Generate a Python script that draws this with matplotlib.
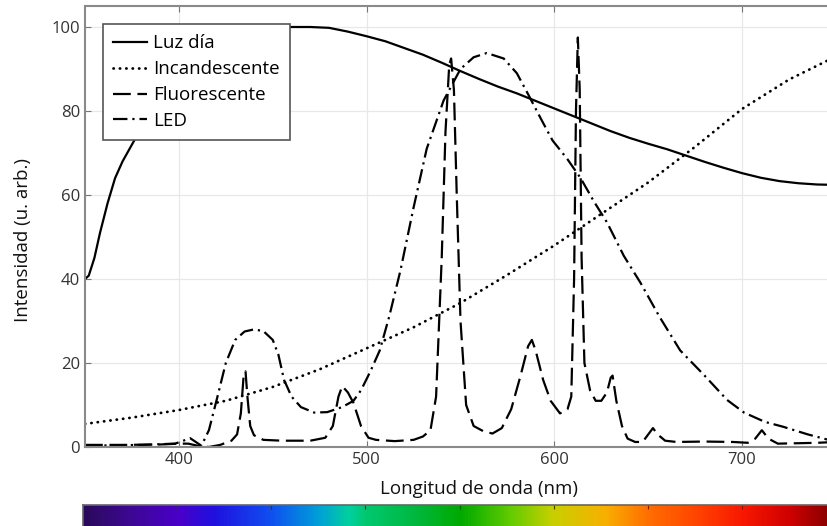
import matplotlib.pyplot as plt
from matplotlib.colors import LinearSegmentedColormap
import numpy as np

plt.rcParams['font.family'] = ['Open Sans', 'DejaVu Sans']

# Luz dia (daylight)
wl_dia = [350, 352, 355, 358, 362, 366, 370, 375, 380, 390, 400, 410, 420, 430, 440,
          450, 460, 470, 480, 490, 500, 510, 520, 530, 540, 550, 560, 570, 580, 590,
          600, 610, 620, 630, 640, 650, 660, 670, 680, 690, 700, 710, 720, 730, 740, 750]
val_dia = [40, 40.8, 45, 51, 58, 64, 68, 72, 76, 83, 88, 92, 95.5, 97.8, 99,
           99.7, 100, 100, 99.8, 98.9, 97.8, 96.6, 95, 93.4, 91.5, 89.5, 87.6, 85.8, 84.2, 82.4,
           80.6, 78.8, 77, 75.2, 73.6, 72.2, 70.9, 69.4, 67.9, 66.5, 65.2, 64.1, 63.3, 62.8, 62.5, 62.4]

# Incandescente
wl_inc = [350, 375, 400, 425, 450, 475, 500, 525, 550, 575, 600, 625, 650, 675, 700, 725, 750]
val_inc = [5.5, 7, 8.8, 11, 14.3, 18.5, 23.5, 28.5, 34.3, 41, 48, 55.5, 63, 71.5, 80.5, 87.5, 93]

# Fluorescente
wl_flu = [350, 370, 390, 400, 405, 410, 416, 422, 428, 431, 433, 434.5, 435.5, 436.5, 438, 440,
          445, 455, 470, 478, 482, 485, 487, 490, 493, 497, 501, 505, 515, 525, 530, 534, 537,
          540, 542, 544, 545, 546.5, 548, 550, 553, 557, 562, 567, 572, 577, 582, 586, 588, 590,
          594, 598, 603, 607, 609, 610.5, 611.5, 612.5, 613.5, 614.5, 616, 619, 622, 625, 628,
          630, 631, 633, 636, 639, 643, 647, 650, 652.5, 655, 659, 665, 680, 695, 703, 707,
          710.5, 714, 719, 730, 740, 750]
val_flu = [0.5, 0.5, 0.6, 0.8, 0.8, 0.3, 0.0, 0.5, 1.5, 3, 8, 17, 18, 12, 5, 2.8,
           1.7, 1.5, 1.5, 2.2, 5, 12, 14.5, 13, 10.5, 5, 2.2, 1.7, 1.4, 1.7, 2.5, 4, 12,
           45, 75, 91, 92.5, 85, 60, 30, 10, 5, 3.8, 3.2, 4.5, 9, 17, 24, 25.5, 23,
           16, 11, 8, 9, 12, 40, 80, 97.5, 85, 45, 20, 13.5, 11, 11, 13,
           16.5, 17, 11, 5, 2, 1.2, 1.2, 3, 4.5, 3, 1.5, 1.2, 1.3, 1.2, 1.0, 2,
           4, 2, 0.8, 0.9, 1.0, 1.2]

# LED
wl_led = [350, 380, 398, 403, 406, 409, 412, 416, 420, 425, 430, 435, 440, 445, 450, 453, 456,
          460, 465, 472, 479, 487, 493, 497, 502, 507, 512, 518, 525, 532, 541, 550, 557, 564,
          573, 580, 586, 593, 599, 607, 614, 621, 628, 637, 646, 656, 667, 680, 692, 701, 712,
          722, 735, 746, 750]
val_led = [0.3, 0.5, 0.8, 1.6, 2.1, 1.2, 0.3, 4, 11, 20, 25.5, 27.5, 28, 27.6, 25.5, 22, 16,
           12, 9.5, 8.2, 8.3, 9.5, 11, 13.5, 18, 23, 31, 42, 57, 71, 82.5, 90, 92.8, 93.8,
           92.5, 89, 84, 78, 73, 68.5, 64, 58.5, 53.5, 45.5, 39, 31, 23, 17, 11.2, 8.2, 6,
           4.8, 3, 1.7, 1.3]

names = ['Luz día', 'Incandescente', 'Fluorescente', 'LED']

# colour strip under the axis
spec_nm = [350, 373, 400, 419, 450, 475, 491, 500, 526, 551, 577, 600, 628, 650, 679, 701, 726, 750]
spec_col = ['#2a0a5a', '#3c0890', '#4a00c8', '#2010e0', '#1050f0', '#00a0d8', '#00d0a0', '#00c870',
            '#00b840', '#00aa00', '#60cc00', '#c8d000', '#f8b000', '#ff7000', '#ff4000', '#f81800',
            '#d00000', '#800000']

fig = plt.figure(figsize=(8.28, 5.26), dpi=100)
ax = fig.add_axes([85/828, 1 - 447/526, 751/828, 441/526])

ax.plot(wl_dia, val_dia, color='black', lw=1.6, label=names[0])
ax.plot(wl_inc, val_inc, color='black', lw=2.0, linestyle=(0, (0.1, 2.2)),
        dash_capstyle='round', label=names[1])
ax.plot(wl_flu, val_flu, color='black', lw=1.6, linestyle=(0, (8, 3)), label=names[2])
ax.plot(wl_led, val_led, color='black', lw=1.6, linestyle=(0, (6.5, 2.2, 1, 2.2)), label=names[3])

ax.set_xlim(350, 750)
ax.set_ylim(0, 105)
ax.set_xticks([400, 500, 600, 700])
ax.set_yticks([0, 20, 40, 60, 80, 100])
ax.grid(True, color='#e8e8e8', lw=0.9)
ax.set_axisbelow(True)
ax.tick_params(direction='in', length=4, color='#777777', labelcolor='#333333',
               labelsize=12, top=True, right=True)
for s in ax.spines.values():
    s.set_color('#8a8a8a')
    s.set_linewidth(1.5)

ax.set_xlabel('Longitud de onda (nm)', fontsize=13.5, color='#111111')
ax.xaxis.set_label_coords(0.525, -0.075)
ax.set_ylabel('Intensidad (u. arb.)', fontsize=13.5, color='#111111')
ax.yaxis.set_label_coords(-0.07, 0.47)

leg = ax.legend(loc='upper left', bbox_to_anchor=(0.024, 0.959), fontsize=13.5, frameon=True,
                fancybox=False, edgecolor='#555555', framealpha=1, handlelength=1.8,
                handletextpad=0.3, labelspacing=0.42, borderpad=0.55, borderaxespad=0)
leg.get_frame().set_linewidth(1.2)

# spectrum strip
cax = fig.add_axes([83/828, -0.03, 753/828, (526 - 505)/526 + 0.03])
pos = [(n - 350) / 400 for n in spec_nm]
cmap = LinearSegmentedColormap.from_list('spec', list(zip(pos, spec_col)))
grad = np.linspace(0, 1, 800).reshape(1, -1)
cax.imshow(grad, aspect='auto', cmap=cmap, extent=[350, 750, 0, 1])
cax.set_xlim(350, 750)
cax.set_xticks(np.arange(400, 751, 50))
cax.set_yticks([])
cax.tick_params(direction='in', length=3, color='#333333', labelbottom=False, top=True)
for s in cax.spines.values():
    s.set_color('#666666')
    s.set_linewidth(1.2)

fig.savefig('out.png', dpi=100)
